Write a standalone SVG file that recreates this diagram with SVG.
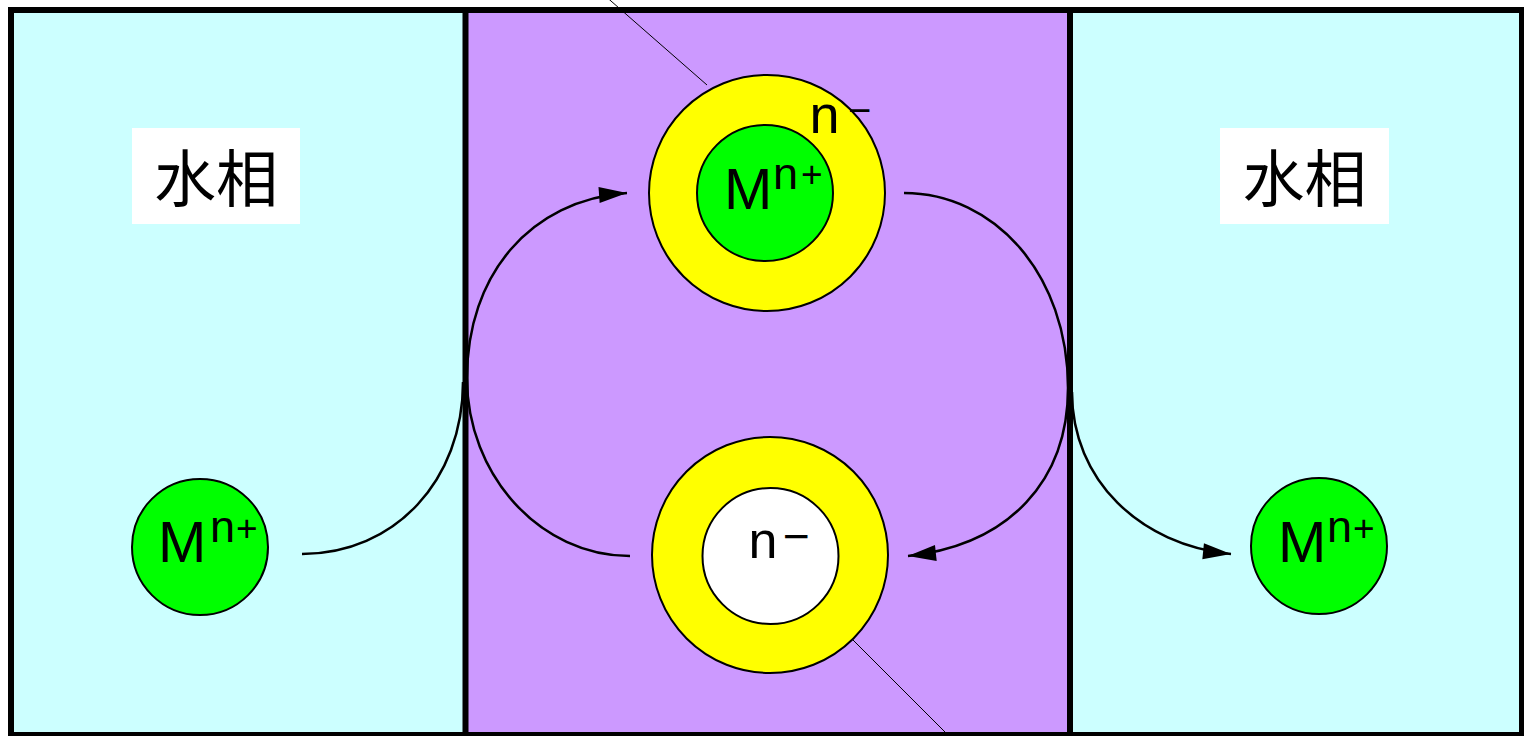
<svg xmlns="http://www.w3.org/2000/svg" width="1524" height="736" viewBox="0 0 1524 736">
<style>
.cyan{fill:#CCFFFF;}
.purple{fill:#CC99FF;}
.div{stroke:#000;stroke-width:6;fill:none;}
.outer{fill:#FFFF00;stroke:#000;stroke-width:2;}
.green{fill:#00FF00;stroke:#000;stroke-width:2;}
.white{fill:#FFFFFF;stroke:#000;stroke-width:2;}
.lbl{fill:#FFFFFF;}
.cjk{font-family:"Noto Sans CJK SC",sans-serif;font-size:62px;fill:#000;text-anchor:middle;}
.t{font-family:"Liberation Sans",Arial,sans-serif;fill:#000;}
.conn{fill:none;stroke:#000;stroke-width:2.5;}
.thin{fill:none;stroke:#000;stroke-width:1;}
</style>
<defs>
<marker id="arr" markerUnits="userSpaceOnUse" markerWidth="32" markerHeight="20" refX="28" refY="9" orient="auto" overflow="visible">
<path d="M0,1 L28,9 L0,17 z" fill="#000"/>
</marker>
</defs>
<rect x="0" y="0" width="1524" height="736" fill="#FFFFFF"/>
<g id="phases">
<rect class="cyan" x="11" y="10" width="454" height="725"/>
<rect class="purple" x="465" y="10" width="605" height="725"/>
<rect class="cyan" x="1070" y="10" width="452" height="725"/>
</g>
<g id="leaders">
<line class="thin" x1="603" y1="-6" x2="707" y2="85"/>
<line class="thin" x1="853" y1="640" x2="947" y2="734"/>
</g>
<g id="connectors">
<path class="conn" d="M302,554 C395,554 463,480 463,382"/>
<path class="conn" d="M630,556 C540,556 467,475 467,378"/>
<path class="conn" marker-end="url(#arr)" d="M467,378 C467,275 530,200 627,193"/>
<path class="conn" d="M904,193 C995,193 1068,275 1068,388"/>
<path class="conn" marker-end="url(#arr)" d="M1068,388 C1068,480 1010,545 908,556"/>
<path class="conn" marker-end="url(#arr)" d="M1072,392 C1072,480 1140,545 1231,554"/>
</g>
<g id="dividers">
<line class="div" x1="465.5" y1="10" x2="465.5" y2="735"/>
<line class="div" x1="1070" y1="10" x2="1070" y2="735"/>
<rect class="div" x="11" y="10" width="1511" height="725"/>
</g>
<g id="label-left">
<rect class="lbl" x="132" y="128" width="168" height="96"/>
<text class="cjk" x="216" y="202">水相</text>
</g>
<g id="label-right">
<rect class="lbl" x="1220" y="128" width="169" height="96"/>
<text class="cjk" x="1304.5" y="202">水相</text>
</g>
<g id="complex-top">
<circle class="outer" cx="767" cy="193" r="118"/>
<circle class="green" cx="765" cy="193" r="68"/>
<text class="t"><tspan x="724" y="209" font-size="58">M</tspan><tspan x="773" y="189" font-size="45">n</tspan><tspan x="801" y="187" font-size="37">+</tspan></text>
<text class="t"><tspan x="809.5" y="133" font-size="54">n</tspan><tspan x="848" y="124" font-size="40">−</tspan></text>
</g>
<g id="carrier-bottom">
<circle class="outer" cx="770" cy="555" r="118"/>
<circle class="white" cx="770.5" cy="556" r="68"/>
<text class="t"><tspan x="748.5" y="558" font-size="52">n</tspan><tspan x="783" y="552" font-size="46">−</tspan></text>
</g>
<g id="ion-left">
<circle class="green" cx="200" cy="547" r="68"/>
<text class="t"><tspan x="158" y="562" font-size="58">M</tspan><tspan x="210" y="542" font-size="45">n</tspan><tspan x="236" y="541" font-size="37">+</tspan></text>
</g>
<g id="ion-right">
<circle class="green" cx="1319" cy="546" r="68"/>
<text class="t"><tspan x="1278" y="562" font-size="58">M</tspan><tspan x="1327" y="542" font-size="45">n</tspan><tspan x="1353" y="541" font-size="37">+</tspan></text>
</g>
</svg>
